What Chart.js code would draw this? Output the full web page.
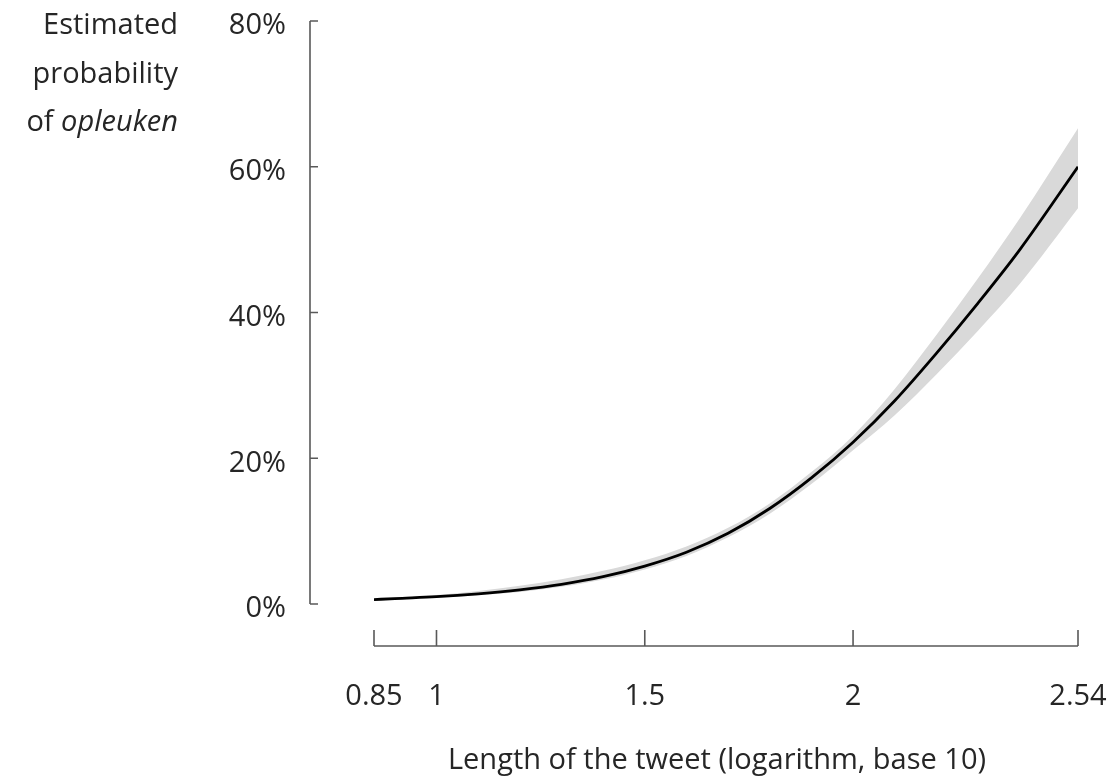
<!DOCTYPE html>
<html>
<head>
<meta charset="utf-8">
<script src="https://cdn.jsdelivr.net/npm/chart.js@4.4.1/dist/chart.umd.min.js"></script>
<style>
  html, body { margin: 0; padding: 0; background: #fff; }
  #wrap { width: 1112px; height: 780px; }
</style>
</head>
<body>
<div id="wrap"><canvas id="chart" width="1112" height="780"></canvas></div>
<script>
// ===== DATA =====
const xValues = [0.85, 0.9, 1.0, 1.1, 1.2, 1.3, 1.4, 1.5, 1.6, 1.7, 1.8, 1.9, 2.0, 2.1, 2.2, 2.3, 2.4, 2.54];
const probability = [0.6, 0.75, 1.0, 1.4, 1.95, 2.7, 3.75, 5.2, 7.1, 9.7, 13.1, 17.3, 22.2, 27.9, 34.4, 41.3, 48.6, 60.0];
const upperBound = [0.7, 0.9, 1.25, 1.8, 2.5, 3.4, 4.55, 6.0, 7.9, 10.45, 13.8, 18.1, 23.1, 29.5, 36.9, 44.7, 52.9, 65.3];
const lowerBound = [0.55, 0.65, 0.85, 1.2, 1.65, 2.35, 3.35, 4.75, 6.6, 9.15, 12.4, 16.45, 21.1, 25.9, 31.5, 37.5, 43.9, 54.3];
const xTicks = [0.85, 1, 1.5, 2, 2.54];
const xTickLabels = ['0.85', '1', '1.5', '2', '2.54'];
const yTicks = [0, 20, 40, 60, 80];

const FONT = '"Open Sans", "Noto Sans", sans-serif';
const FSIZE = 29;
const TEXT = '#262626';
const AXIS = '#595959';

const pts = arr => xValues.map((x, i) => ({ x: x, y: arr[i] }));

// sem padding extra das escalas (o padding dos ticks empurra a área do gráfico)
const noPad = s => { s.paddingTop = 0; s.paddingBottom = 0; s.paddingLeft = 0; s.paddingRight = 0; };

// ===== EIXOS E TÍTULOS (desenhados com as escalas do Chart.js) =====
const axesPlugin = {
    id: 'offsetAxes',
    afterDraw(chart) {
        const ctx = chart.ctx;
        const xs = chart.scales.x, ys = chart.scales.y;
        const ca = chart.chartArea;
        ctx.save();
        ctx.strokeStyle = AXIS;
        ctx.lineWidth = 1.6;

        // eixo y
        const yx = ca.left - 64;
        ctx.beginPath();
        ctx.moveTo(yx, ys.getPixelForValue(yTicks[0]));
        ctx.lineTo(yx, ys.getPixelForValue(yTicks[yTicks.length - 1]));
        yTicks.forEach(v => {
            const p = ys.getPixelForValue(v);
            ctx.moveTo(yx, p);
            ctx.lineTo(yx + 8, p);
        });
        ctx.stroke();

        // eixo x
        const xy = ca.bottom + 42;
        ctx.beginPath();
        ctx.moveTo(xs.getPixelForValue(xTicks[0]), xy);
        ctx.lineTo(xs.getPixelForValue(xTicks[xTicks.length - 1]), xy);
        xTicks.forEach(v => {
            const p = xs.getPixelForValue(v);
            ctx.moveTo(p, xy);
            ctx.lineTo(p, xy - 16);
        });
        ctx.stroke();

        // título do eixo y
        ctx.fillStyle = TEXT;
        ctx.textBaseline = 'middle';
        ctx.textAlign = 'right';
        const right = 178;
        ctx.font = `400 ${FSIZE}px ${FONT}`;
        ctx.fillText('Estimated', right, 26);
        ctx.fillText('probability', right, 75);
        ctx.font = `italic 400 ${FSIZE}px ${FONT}`;
        const wItal = ctx.measureText('opleuken').width;
        ctx.fillText('opleuken', right, 123);
        ctx.font = `400 ${FSIZE}px ${FONT}`;
        ctx.fillText('of ', right - wItal, 123);

        // título do eixo x
        ctx.textAlign = 'center';
        ctx.fillText('Length of the tweet (logarithm, base 10)', 717, 761);
        ctx.restore();
    }
};

// ===== GRÁFICO =====
const ctx = document.getElementById('chart').getContext('2d');
const chart = new Chart(ctx, {
    type: 'scatter',
    data: {
        datasets: [
            {
                label: 'Estimated probability',
                data: pts(probability),
                showLine: true,
                borderColor: '#000',
                borderWidth: 2.8,
                pointRadius: 0,
                cubicInterpolationMode: 'monotone',
                fill: false
            },
            {
                label: 'upper',
                data: pts(upperBound),
                showLine: true,
                borderWidth: 0,
                borderColor: 'rgba(0,0,0,0)',
                backgroundColor: '#d9d9d9',
                pointRadius: 0,
                cubicInterpolationMode: 'monotone',
                fill: '+1'
            },
            {
                label: 'lower',
                data: pts(lowerBound),
                showLine: true,
                borderWidth: 0,
                borderColor: 'rgba(0,0,0,0)',
                pointRadius: 0,
                cubicInterpolationMode: 'monotone',
                fill: false
            }
        ]
    },
    options: {
        responsive: false,
        animation: false,
        layout: { padding: { top: 21, right: 34, bottom: 0, left: 0 } },
        plugins: {
            legend: { display: false },
            tooltip: { enabled: false }
        },
        scales: {
            x: {
                type: 'linear',
                min: xTicks[0],
                max: xTicks[xTicks.length - 1],
                afterBuildTicks: s => { s.ticks = xTicks.map(v => ({ value: v })); },
                afterFit: s => { s.height = 176; noPad(s); },
                grid: { display: false, drawTicks: false },
                border: { display: false },
                ticks: {
                    padding: 75,
                    maxRotation: 0,
                    autoSkip: false,
                    color: TEXT,
                    font: { family: FONT, size: FSIZE, weight: '400' },
                    callback: v => xTickLabels[xTicks.indexOf(v)]
                }
            },
            y: {
                min: 0,
                max: 80,
                afterBuildTicks: s => { s.ticks = yTicks.map(v => ({ value: v })); },
                afterFit: s => { s.width = 374; noPad(s); },
                grid: { display: false, drawTicks: false },
                border: { display: false },
                ticks: {
                    padding: 88,
                    labelOffset: 5,
                    color: TEXT,
                    font: { family: FONT, size: FSIZE, weight: '400' },
                    callback: v => v + '%'
                }
            }
        }
    },
    plugins: [axesPlugin]
});
</script>
</body>
</html>
